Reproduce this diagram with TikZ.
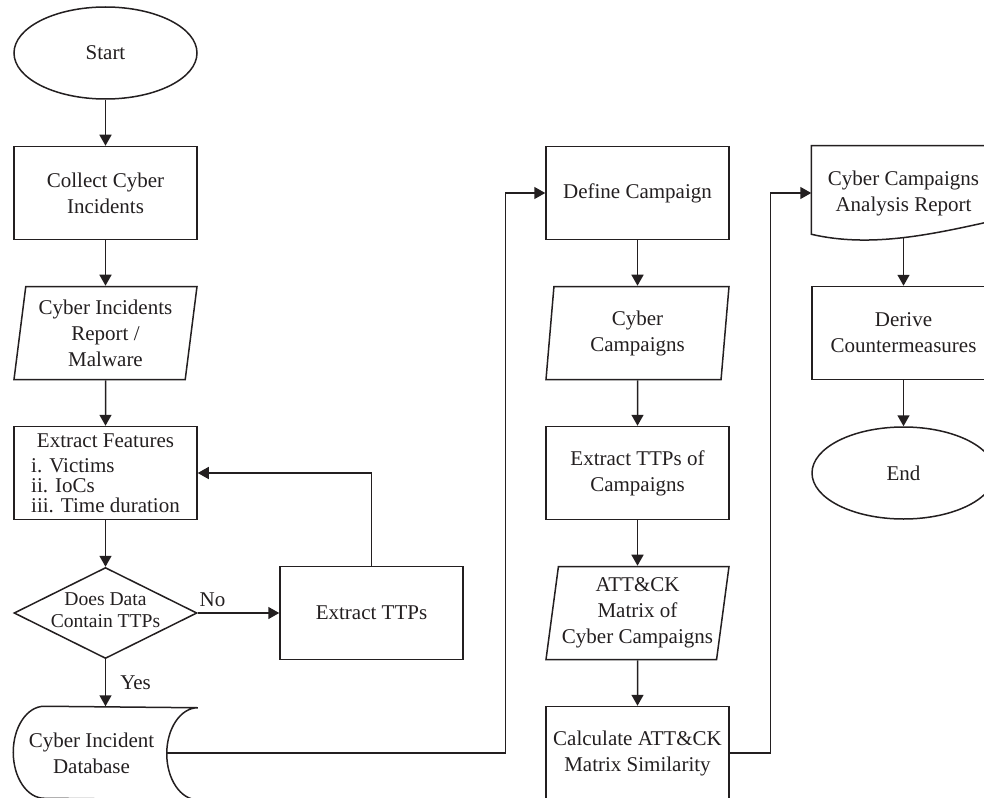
\documentclass[tikz,border=0pt]{standalone}
\usepackage{fontspec}
\setmainfont{Liberation Serif}
\usetikzlibrary{shapes.geometric, arrows.meta, positioning}

\definecolor{ink}{HTML}{231F20}

\tikzset{
    base/.style = {draw=ink, line width=0.75pt, text=ink, align=center,
        font=\fontsize{10.5pt}{13pt}\selectfont},
    terminal/.style = {base, ellipse, minimum width=91.5pt, minimum height=46pt, inner sep=0pt},
    process/.style = {base, rectangle, minimum width=91.5pt, minimum height=46.5pt, inner sep=0pt},
    io/.style = {base, trapezium, trapezium left angle=80, trapezium right angle=100,
        trapezium stretches body, minimum width=91.5pt, minimum height=46.5pt, inner sep=0pt},
    decision/.style = {base, diamond, aspect=2, minimum width=91.5pt, minimum height=45.5pt,
        inner sep=-6pt, font=\fontsize{9.8pt}{11pt}\selectfont},
    datastore/.style = {base, draw=none, minimum width=91.5pt, minimum height=46pt, inner sep=0pt},
    paper/.style = {base, draw=none, minimum width=91.5pt, minimum height=46.5pt, inner sep=0pt},
    outline/.style = {draw=ink, line width=0.75pt},
    flow/.style = {-{Triangle[length=5.5pt, width=6pt]}, draw=ink, line width=0.75pt},
    branch/.style = {text=ink, font=\fontsize{10.5pt}{13pt}\selectfont, inner sep=3pt},
}

\begin{document}
\begin{tikzpicture}[node distance = 70pt and 133pt, on grid]
    \useasboundingbox (-52.75pt,26.5pt) rectangle (439.25pt,-372pt);
    \clip (-52.75pt,26.5pt) rectangle (439.25pt,-372pt);

    % incidents column
    \node (start) [terminal] {Start};
    \node (collect) [process, below = of start] {Collect Cyber\\Incidents};
    \node (incidents) [io, below = of collect] {Cyber Incidents\\Report /\\Malware};
    \node (features) [process, below = of incidents] {{\fontsize{10.5pt}{10pt}\selectfont
        \begin{tabular}{@{}l@{}}\multicolumn{1}{@{}c@{}}{\rule{0pt}{10pt}Extract Features}\\[2.5pt]
        i. Victims\\ ii. IoCs\\ iii. Time duration\end{tabular}}};
    \node (check) [decision, below = of features, yshift=0pt] {Does Data\\Contain TTPs\rule[-3pt]{0pt}{3pt}};
    \node (db) [datastore, below = of check] {Cyber Incident\hspace*{14pt}\\Database\hspace*{14pt}};
    \node (ttps) [process, right = of check] {Extract TTPs};

    % campaigns column
    \node (define) [process, right = 266pt of collect] {Define Campaign};
    \node (campaigns) [io, below = of define] {Cyber\\Campaigns};
    \node (ttpscamp) [process, below = of campaigns] {Extract TTPs of\\Campaigns};
    \node (matrix) [io, below = of ttpscamp] {ATT\&CK\\Matrix of\\Cyber Campaigns};
    \node (similarity) [process, below = of matrix] {Calculate ATT\&CK\\Matrix Similarity};

    % report column
    \node (analysis) [paper, right = of define] {Cyber Campaigns\\Analysis Report};
    \node (counter) [process, below = of analysis] {Derive\\Countermeasures};
    \node (stop) [terminal, below = of counter] {End};

    % database and document outlines
    \draw [outline] ([xshift=15.5pt]db.north west)
        arc [start angle=90, end angle=270, x radius=15.5pt, y radius=23pt]
        -- (db.south east)
        arc [start angle=270, end angle=90, x radius=15.5pt, y radius=23pt] -- cycle;
    \draw [outline] ([yshift=3pt]analysis.south west) -- (analysis.north west)
        -- (analysis.north east) -- ([yshift=10pt]analysis.south east)
        .. controls ([xshift=-31.5pt, yshift=3pt]analysis.south east)
        and ([xshift=30pt, yshift=-4pt]analysis.south west)
        .. ([yshift=3pt]analysis.south west) -- cycle;

    \coordinate (db out) at ([xshift=-15.5pt]db.east);
    \coordinate (join1) at ([xshift=-20pt]define.west);
    \coordinate (join2) at ([xshift=-20.5pt]analysis.west);

    \draw [flow] (start) -- (collect);
    \draw [flow] (collect) -- (incidents);
    \draw [flow] (incidents) -- (features);
    \draw [flow] (features) -- (check);
    \draw [flow] (check) -- node [branch, right=4pt] {Yes} (db);
    \draw [flow] (check) -- node [branch, above, pos=0.18] {No} (ttps);
    \draw [flow] (ttps) |- (features);
    \draw [flow] (db out) -| (join1) -- (define);

    \draw [flow] (define) -- (campaigns);
    \draw [flow] (campaigns) -- (ttpscamp);
    \draw [flow] (ttpscamp) -- (matrix);
    \draw [flow] (matrix) -- (similarity);
    \draw [flow] (similarity) -| (join2) -- (analysis);

    \draw [flow] ([yshift=1.6pt]analysis.south) -- (counter);
    \draw [flow] (counter) -- (stop);
\end{tikzpicture}
\end{document}
